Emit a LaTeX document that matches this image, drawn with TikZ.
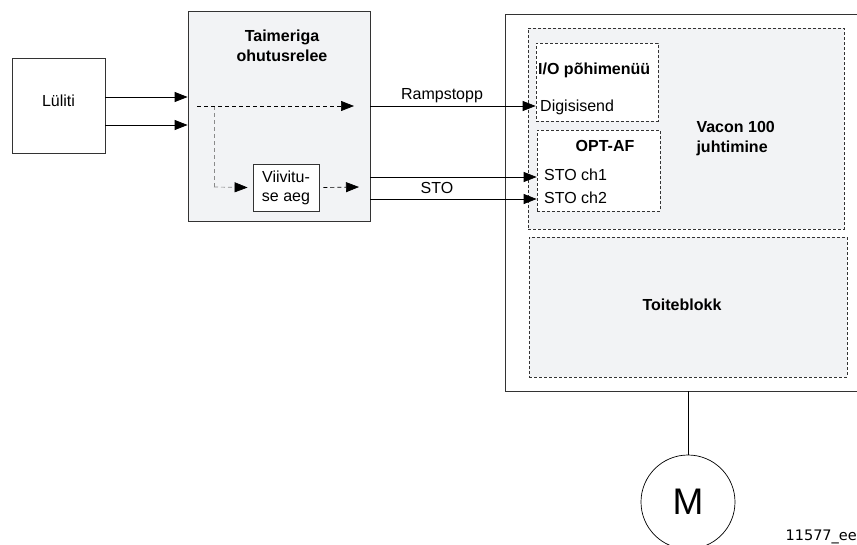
\documentclass[tikz,border=0pt]{standalone}
\usepackage{fontspec}
\setmainfont{Liberation Sans}
\newfontfamily\codefont{DejaVu Sans}
\usetikzlibrary{arrows.meta}
\definecolor{boxgray}{HTML}{F2F3F5}
\definecolor{linegray}{HTML}{333333}
\definecolor{lightline}{HTML}{8A8A8A}
\begin{document}
\begin{tikzpicture}[x=1pt,y=-1pt,
  every node/.style={font=\fontsize{16}{19}\selectfont},
  solidbox/.style={draw=linegray,line width=0.8pt,inner sep=0pt,rectangle},
  dashbox/.style={draw=linegray,line width=0.7pt,dash pattern=on 3pt off 2pt,inner sep=0pt,rectangle},
  arr/.style={draw=black,line width=0.8pt,-{Triangle[length=13pt,width=10pt]}},
  darr/.style={draw=black,line width=0.7pt,dash pattern=on 4pt off 3pt,-{Triangle[length=13pt,width=10pt,color=black]}},
  garr/.style={draw=lightline,line width=0.8pt,dash pattern=on 4pt off 3pt},
  bold/.style={font=\fontsize{16}{20}\selectfont\bfseries},
]
\clip (0,0) rectangle (857,544);
\useasboundingbox (0,0) rectangle (857,544);
\fill[white] (0,0) rectangle (857,544);

% Lueliti
\node[solidbox,fill=white,minimum width=93pt,minimum height=95pt] (lul) at (58.5,105.5) {};
\node (lultxt) at (58.5,101) {Lüliti};

% Taimeriga ohutusrelee
\node[solidbox,fill=boxgray,minimum width=182pt,minimum height=210pt] (tai) at (279,116) {};
\node[bold,align=center] (taitxt) at (282,46) {Taimeriga\\ohutusrelee};

% Viivituse aeg
\node[solidbox,fill=white,minimum width=66pt,minimum height=47pt,align=center] (vii) at (286,187.5) {Viivitu-\\se aeg};

% Vacon outer (open to the right)
\coordinate (vtl) at (505,14);
\coordinate (vbl) at (505,391);
\draw[draw=linegray,line width=0.8pt] (860,14) -- (vtl) -- (vbl) -- (860,391);

% Vacon 100 juhtimine
\node[dashbox,fill=boxgray,minimum width=316pt,minimum height=201pt] (ctl) at (686,128.5) {};
\node[bold,align=left,anchor=west] (ctltxt) at (693,138.5) {Vacon 100\\juhtimine};

% I/O
\node[dashbox,fill=white,minimum width=122pt,minimum height=78pt] (io) at (597,82) {};
\node[bold,anchor=west,inner sep=0pt] (iotxt) at (538,70) {I/O põhimenüü};
\node[anchor=west,inner sep=0pt] (digi) at (540,107) {Digisisend};

% OPT-AF
\node[dashbox,fill=white,minimum width=123pt,minimum height=81pt] (opt) at (598.5,170.5) {};
\node[bold] (opttxt) at (605,146) {OPT-AF};
\node[anchor=west,inner sep=0pt] (ch1) at (544,175) {STO ch1};
\node[anchor=west,inner sep=0pt] (ch2) at (544,198) {STO ch2};

% Toiteblokk
\node[dashbox,fill=boxgray,minimum width=318pt,minimum height=140pt] (toi) at (688,307) {};
\node[bold] (toitxt) at (682,305) {Toiteblokk};

% Motor
\node[draw=black,line width=0.7pt,circle,minimum size=94pt,inner sep=0pt,font=\fontsize{37}{40}\selectfont] (mot) at (688,502) {M};
\coordinate (vbot) at (688,391);
\draw[line width=1pt] (vbot) -- (mot.north);

% Lueliti -> relay
\draw[arr] (lul.east |- 0,97) -- (tai.west |- 0,97);
\draw[arr] (lul.east |- 0,125) -- (tai.west |- 0,125);

% internal dashed paths
\coordinate (ds) at (197,106);
\coordinate (de) at (354,106);
\coordinate (dv) at (214,106);
\coordinate (dvb) at (214,187);
\draw[garr] (dv) -- (dvb);
\draw[darr,draw=lightline] (dvb) -- ([xshift=-5pt]vii.west);
\draw[darr] (ds) -- (de);
\coordinate (ve) at (359,187);
\draw[darr] ([xshift=4pt]vii.east) -- (ve);

% outputs
\draw[arr] (tai.east |- 0,106) -- (io.west |- 0,106);
\draw[arr] (tai.east |- 0,177) -- (opt.west |- 0,177);
\draw[arr] (tai.east |- 0,199) -- (opt.west |- 0,199);
\node (ramp) at (442,96) {Rampstopp};
\node (sto) at (437,188) {STO};

% figure id
\node[anchor=east,inner sep=0pt,font=\codefont\fontsize{14.5}{16}\selectfont] (fid) at (857,537) {11577\_ee};
\end{tikzpicture}
\end{document}
